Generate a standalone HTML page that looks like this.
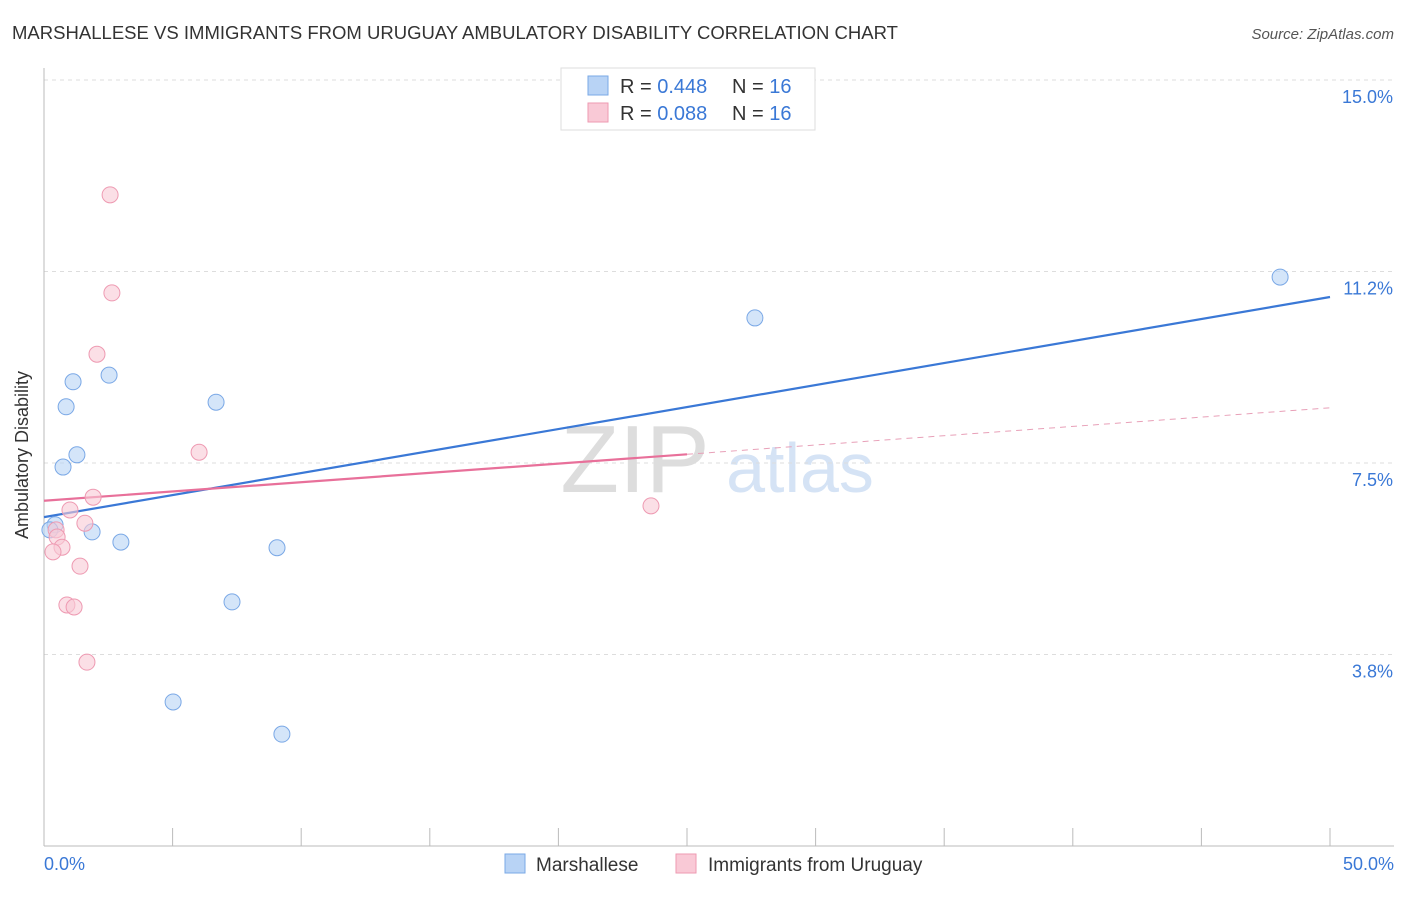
<!DOCTYPE html>
<html><head><meta charset="utf-8"><style>
body{margin:0;background:#fff;font-family:"Liberation Sans",sans-serif;}
svg text{font-family:"Liberation Sans",sans-serif;}
</style></head><body>
<svg id="chart" width="1406" height="892">
<text x="12" y="39" font-size="18" fill="#333" textLength="886" lengthAdjust="spacingAndGlyphs">MARSHALLESE VS IMMIGRANTS FROM URUGUAY AMBULATORY DISABILITY CORRELATION CHART</text>
<text x="1394" y="39" font-size="15" fill="#555" text-anchor="end" font-style="italic">Source: ZipAtlas.com</text>
<text x="28" y="455" font-size="18" fill="#333" text-anchor="middle" transform="rotate(-90 28 455)">Ambulatory Disability</text>
<text x="635" y="492" font-size="96" fill="#ddd" text-anchor="middle" font-family="Liberation Serif">ZIP</text>
<text x="800" y="492" font-size="70" fill="#d5e3f5" text-anchor="middle">atlas</text>
<g id="grid"></g><g id="axes"></g><g id="lines"></g><g id="pts"></g>
<g>
<rect x="561" y="68" width="254" height="62" fill="#fff" stroke="#ddd"/>
<rect x="588" y="76" width="20" height="19" fill="#b8d3f5" stroke="#7aa8e6"/>
<text x="620" y="93" font-size="20" fill="#333">R = <tspan fill="#3a78d6">0.448</tspan></text>
<text x="732" y="93" font-size="20" fill="#333">N = <tspan fill="#3a78d6">16</tspan></text>
<rect x="588" y="103" width="20" height="19" fill="#f9c9d6" stroke="#ee9ab2"/>
<text x="620" y="120" font-size="20" fill="#333">R = <tspan fill="#3a78d6">0.088</tspan></text>
<text x="732" y="120" font-size="20" fill="#333">N = <tspan fill="#3a78d6">16</tspan></text>
</g>
<g>
<rect x="505" y="854" width="20" height="19" fill="#b8d3f5" stroke="#7aa8e6"/>
<text x="536" y="871" font-size="19" fill="#333">Marshallese</text>
<rect x="676" y="854" width="20" height="19" fill="#f9c9d6" stroke="#ee9ab2"/>
<text x="708" y="871" font-size="19" fill="#333">Immigrants from Uruguay</text>
</g>
</svg>
<script>
const blueX=[0.43,0.74,0.86,1.13,1.28,1.87,2.53,2.99,5.02,6.69,7.31,9.06,9.25,27.64,48.06,0.23];
const blueY=[6.29,7.42,8.60,9.09,7.66,6.15,9.22,5.95,2.82,8.69,4.78,5.84,2.19,10.34,11.14,6.19];
const pinkX=[2.57,2.64,2.06,6.03,1.91,1.01,1.59,0.47,0.51,0.70,0.35,1.40,0.89,1.17,1.67,23.6];
const pinkY=[12.75,10.83,9.63,7.71,6.83,6.58,6.32,6.19,6.05,5.85,5.76,5.48,4.72,4.68,3.60,6.66];
const yTicks=[3.75,7.5,11.25,15];
const yTickLabels=["3.8%","7.5%","11.2%","15.0%"];
const blueTrend=[6.44,10.75];
const pinkTrend=[6.76,8.58];
const ns="http://www.w3.org/2000/svg";
const X=v=>44+v/50*1286, Y=v=>846-v*51.07;
function mk(t,a,p){const e=document.createElementNS(ns,t);for(const k in a)e.setAttribute(k,a[k]);document.getElementById(p).appendChild(e);return e;}
yTicks.forEach((t,i)=>{
 const g=mk('line',{x1:44,x2:1394,y1:Y(t),y2:Y(t),stroke:'#ddd','stroke-dasharray':'4,4'},'grid');
 
 
 const l=mk('text',{x:1393,y:Y(t)+23,'font-size':18,fill:'#3a78d6','text-anchor':'end'},'axes');
 l.textContent=yTickLabels[i];
 
 
});
const ax=mk('line',{x1:44,x2:1394,y1:846,y2:846,stroke:'#bbb'},'axes');


const ay=mk('line',{x1:44,x2:44,y1:68,y2:846,stroke:'#bbb'},'axes');


for(let i=1;i<=10;i++){const t=mk('line',{x1:X(i*5),x2:X(i*5),y1:828,y2:846,stroke:'#bbb'},'axes');
 
 }
[[0,"0.0%",'start',44],[50,"50.0%",'end',1394]].forEach(a=>{const t=mk('text',{x:a[3],y:870,'font-size':18,fill:'#3a78d6','text-anchor':a[2]},'axes');t.textContent=a[1];
 
 });
const bl=mk('line',{x1:X(0),y1:Y(blueTrend[0]),x2:X(50),y2:Y(blueTrend[1]),stroke:'#3a78d6','stroke-width':2.2},'lines');


const pm=25, pv=pinkTrend[0]+(pinkTrend[1]-pinkTrend[0])*pm/50;
const pl=mk('line',{x1:X(0),y1:Y(pinkTrend[0]),x2:X(pm),y2:Y(pv),stroke:'#e8709a','stroke-width':2.2},'lines');


const pd=mk('line',{x1:X(pm),y1:Y(pv),x2:X(50),y2:Y(pinkTrend[1]),stroke:'#e8a0b8','stroke-width':1,'stroke-dasharray':'6,5'},'lines');


blueX.forEach((v,i)=>{const c=mk('circle',{cx:X(v),cy:Y(blueY[i]),r:8,fill:'#b8d3f5','fill-opacity':0.6,stroke:'#7aa8e6'},'pts');
 
 });
pinkX.forEach((v,i)=>{const c=mk('circle',{cx:X(v),cy:Y(pinkY[i]),r:8,fill:'#f9c9d6','fill-opacity':0.6,stroke:'#ee9ab2'},'pts');
 
 });
</script>
</body></html>
